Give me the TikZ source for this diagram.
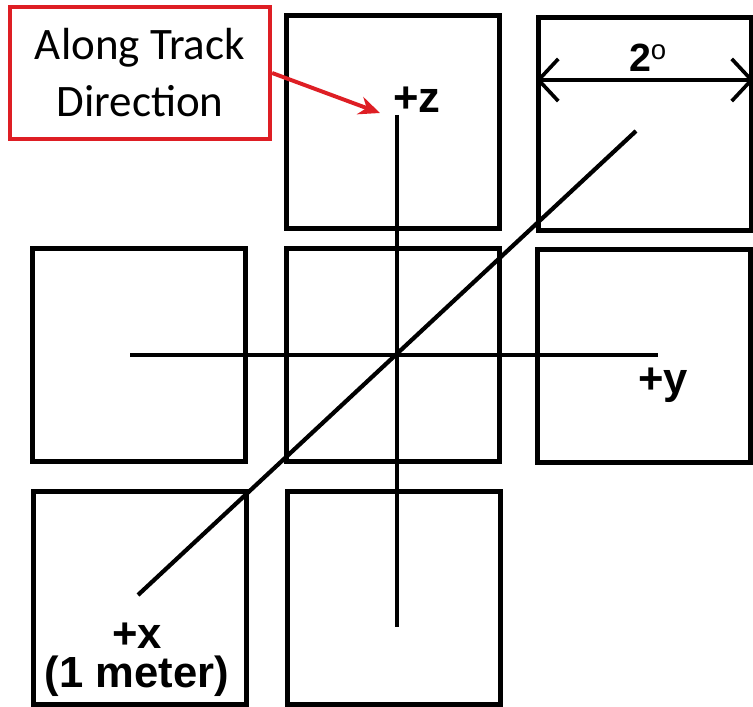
\documentclass[tikz,border=0pt]{standalone}
\usepackage{fontspec}
\setmainfont{Liberation Sans}
\newfontfamily\notefont{Carlito}
\usetikzlibrary{arrows.meta}

\begin{document}
\begin{tikzpicture}[x=0.025cm,y=-0.025cm,
  cell/.style={draw,line width=3.4pt,minimum size=5.325cm,inner sep=0pt},
  axis/.style={line width=3pt},
  axislabel/.style={font=\bfseries\fontsize{31}{28}\selectfont,align=center,inner sep=0pt},
  notebox/.style={draw=notered,line width=3pt,minimum width=6.5cm,minimum height=3.3cm,
    align=center,font=\notefont\fontsize{32}{40.5}\selectfont},
  notearrow/.style={draw=notered,line width=2.8pt,-{Stealth[length=15pt,width=13pt]}},
  barb/.tip={Straight Barb[length=14pt,width=30pt,line width=2.6pt]}]
\definecolor{notered}{RGB}{222,30,36}
\useasboundingbox (0,0) rectangle (753,707);
% 视场方格
\node[cell] (tm) at (393,122) {};
\node[cell] (tr) at (645,124) {};
\node[cell] (ml) at (139,355) {};
\node[cell] (mc) at (393,355) {};
\node[cell] (mr) at (644,356) {};
\node[cell] (bl) at (140,598) {};
\node[cell] (bc) at (394,598) {};
% 三根坐标轴
\coordinate (ztop) at (397,115);
\coordinate (zbot) at (397,627);
\coordinate (yl) at (130,355);
\coordinate (yr) at (658,355);
\coordinate (xlo) at (138,595);
\coordinate (xhi) at (636,131);
\draw[axis] (ztop) -- (zbot);
\draw[axis] (yl) -- (yr);
\draw[axis] (xlo) -- (xhi);
\node[axislabel] (zlab) at (417,100) {+z};
\node[axislabel] (ylab) at (663,385) {+y};
\node[axislabel] (xlab) at (137,660) {+x\\(1 meter)};
% 2 度宽度标注
\draw[line width=2.8pt,barb-barb] (tr.west |- 0,80) -- (tr.east |- 0,80);
\node[font=\bfseries\fontsize{28}{28}\selectfont,inner sep=0pt] (deg) at (648,58)
  {2\textsuperscript{\mdseries o}};
% 沿轨方向说明框
\node[notebox] (note) at (140,73) {Along Track\\Direction};
\coordinate (ztip) at (380,113);
\draw[notearrow] (note.east) -- (ztip);
\end{tikzpicture}
\end{document}
